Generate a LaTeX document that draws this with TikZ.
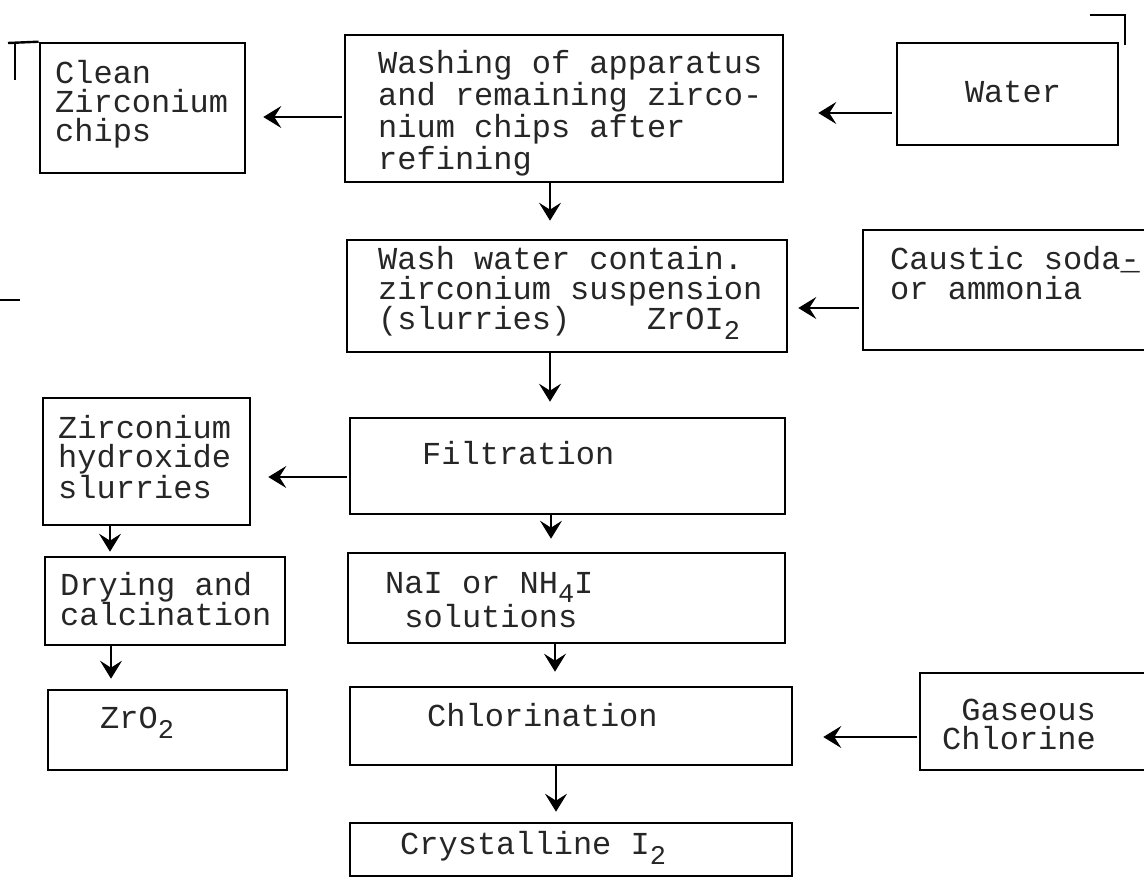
\documentclass[tikz,border=0pt]{standalone}
\usepackage{fontspec}
\setmainfont{Liberation Mono}
\usetikzlibrary{arrows.meta}
\newcommand\sbs[1]{\raisebox{-0.3em}{\fontsize{27pt}{27pt}\selectfont #1}}
\tikzset{
  box/.style={draw=black, line width=2.6pt, rectangle, inner sep=0pt},
  txt/.style={inner sep=0pt, align=left, text=black!85, font=\fontsize{32pt}{32pt}\selectfont},
  arr/.style={draw=black, line width=2.6pt, -{Stealth[length=18pt,width=22pt,inset=7pt,line width=1pt]}},
  straymark/.style={draw=black, line width=2.4pt}
}
\begin{document}
\begin{tikzpicture}[x=1pt,y=-1pt]
\useasboundingbox (0,0) rectangle (1144,886);
\clip (0,0) rectangle (1144,886);
% boxes
\node[box, minimum width=205pt, minimum height=130pt] (clean) at (142.5,108) {};
\node[box, minimum width=438pt, minimum height=147pt] (wash) at (564,108.5) {};
\node[box, minimum width=221pt, minimum height=102pt] (water) at (1007.5,94) {};
\node[box, minimum width=440pt, minimum height=112pt] (ww) at (567,296) {};
\node[box, minimum width=297pt, minimum height=120pt] (caustic) at (1011.5,290) {};
\node[box, minimum width=435pt, minimum height=96pt] (filt) at (567.5,466) {};
\node[box, minimum width=207pt, minimum height=127pt] (zr) at (146.5,461.5) {};
\node[box, minimum width=240pt, minimum height=88pt] (dry) at (165,601) {};
\node[box, minimum width=239pt, minimum height=80pt] (zro) at (167.5,730) {};
\node[box, minimum width=437pt, minimum height=90pt] (nai) at (566.5,598) {};
\node[box, minimum width=442pt, minimum height=78pt] (chl) at (571,726) {};
\node[box, minimum width=240pt, minimum height=97pt] (gas) at (1040,721.5) {};
\node[box, minimum width=442pt, minimum height=53pt] (cry) at (571,849.5) {};
% texts
\node[txt, anchor=west, font=\fontsize{32pt}{29pt}\selectfont] (cleanT) at (55,104) {Clean\\Zirconium\\chips};
\node[txt, anchor=west, font=\fontsize{32pt}{32pt}\selectfont] (washT) at (378,113) {Washing of apparatus\\and remaining zirco-\\nium chips after\\refining};
\node[txt] (waterT) at (1013,92) {Water};
\node[txt, anchor=west, font=\fontsize{32pt}{30pt}\selectfont] (wwT) at (378,293) {Wash water contain.\\zirconium suspension\\(slurries)~~~~ZrOI\sbs{2}};
\node[txt, anchor=west, font=\fontsize{32pt}{30pt}\selectfont] (causticT) at (890,273) {Caustic soda\rlap{-}\_\\or ammonia};
\node[txt, anchor=west] (filtT) at (422,453) {Filtration};
\node[txt, anchor=west, font=\fontsize{32pt}{29pt}\selectfont] (zrT) at (58,457) {Zirconium\\hydroxide\\slurries};
\node[txt, anchor=west, font=\fontsize{32pt}{30pt}\selectfont] (dryT) at (60,599) {Drying and\\calcination};
\node[txt, anchor=west] (zroT) at (100,723) {ZrO\sbs{2}};
\node[txt, anchor=west, font=\fontsize{32pt}{34pt}\selectfont] (naiT) at (385,600) {NaI or NH\sbs{4}I\\~solutions};
\node[txt, anchor=west] (chlT) at (427,715) {Chlorination};
\node[txt, anchor=west, font=\fontsize{32pt}{29pt}\selectfont] (gasT) at (942,724) {~Gaseous\\Chlorine};
\node[txt, anchor=west] (cryT) at (400,848) {Crystalline I\sbs{2}};
% horizontal connectors
\draw[arr, shorten <=4pt, shorten >=34pt] ([yshift=-19pt]water.west) -- ([yshift=-19pt]water.west -| wash.east);
\draw[arr, shorten <=2pt, shorten >=17pt] ([yshift=-8.5pt]wash.west) -- ([yshift=-8.5pt]wash.west -| clean.east);
\draw[arr, shorten <=3pt, shorten >=10pt] ([yshift=-18pt]caustic.west) -- ([yshift=-18pt]caustic.west -| ww.east);
\draw[arr, shorten <=2pt, shorten >=17pt] ([yshift=-11pt]filt.west) -- ([yshift=-11pt]filt.west -| zr.east);
\draw[arr, shorten <=2pt, shorten >=30pt] ([yshift=-15.5pt]gas.west) -- ([yshift=-15.5pt]gas.west -| chl.east);
% vertical connectors
\draw[arr, shorten >=18pt] ([xshift=-14pt]wash.south) -- ([xshift=-14pt]wash.south |- ww.north);
\draw[arr, shorten >=15pt] ([xshift=-17pt]ww.south) -- ([xshift=-17pt]ww.south |- filt.north);
\draw[arr, shorten >=13pt] ([xshift=-16.5pt]filt.south) -- ([xshift=-16.5pt]filt.south |- nai.north);
\draw[arr, shorten >=14pt] ([xshift=-11.5pt]nai.south) -- ([xshift=-11.5pt]nai.south |- chl.north);
\draw[arr, shorten >=10pt] ([xshift=-15pt]chl.south) -- ([xshift=-15pt]chl.south |- cry.north);
\draw[arr, shorten >=4pt] ([xshift=-36.5pt]zr.south) -- ([xshift=-36.5pt]zr.south |- dry.north);
\draw[arr, shorten >=10pt] ([xshift=-54pt]dry.south) -- ([xshift=-54pt]dry.south |- zro.north);
% stray marks of the original
\draw[straymark] (8,43) -- (clean.north west);
\draw[straymark] (15,43) -- (15,80);
\draw[straymark] (1090,15) -- (1125,15) -- (1125,45);
\draw[straymark] (0,300) -- (20,300);
\end{tikzpicture}
\end{document}
